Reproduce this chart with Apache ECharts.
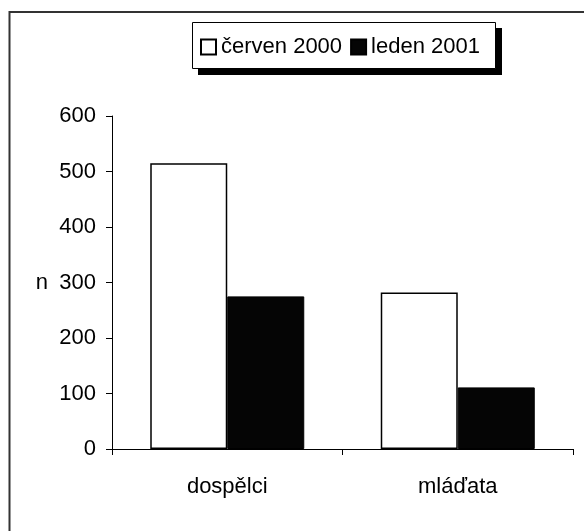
<!DOCTYPE html>
<html>
<head>
<meta charset="utf-8">
<script src="https://cdn.jsdelivr.net/npm/echarts@6/dist/echarts.min.js"></script>
<style>
html,body{margin:0;padding:0;background:#fff;}
#main{width:584px;height:531px;}
</style>
</head>
<body>
<div id="main"></div>
<script>
const categories = ['dospělci', 'mláďata'];
const seriesNames = ['červen 2000', 'leden 2001'];
const cerven2000 = [515, 282];
const leden2001 = [275, 111];
const yTicks = [0, 100, 200, 300, 400, 500, 600];

const FONT = '"Liberation Sans", Arial, sans-serif';
const chart = echarts.init(document.getElementById('main'), null, {renderer: 'canvas'});
chart.setOption({
  animation: false,
  backgroundColor: '#ffffff',
  textStyle: {fontFamily: FONT, color: '#000'},
  graphic: [
    {type: 'line', z: 0, shape: {x1: 9, y1: 12, x2: 584, y2: 12}, style: {stroke: '#333', lineWidth: 2}},
    {type: 'line', z: 0, shape: {x1: 9.5, y1: 11, x2: 9.5, y2: 531}, style: {stroke: '#333', lineWidth: 2}},
    {type: 'rect', z: 0, shape: {x: 198, y: 28, width: 304, height: 47}, style: {fill: '#000'}},
    {type: 'rect', z: 0, shape: {x: 192.5, y: 22.5, width: 303, height: 46}, style: {fill: '#fff', stroke: '#000', lineWidth: 1}}
  ],
  legend: {
    left: 192, top: 22,
    padding: [14, 16, 14, 8],
    itemGap: 8,
    itemWidth: 15, itemHeight: 15,
    z: 10,
    textStyle: {fontFamily: FONT, fontSize: 22, color: '#000'},
    icon: 'rect',
    data: seriesNames
  },
  grid: {left: 112, right: 11, top: 116, bottom: 82, containLabel: false},
  xAxis: {
    type: 'category',
    data: categories,
    boundaryGap: true,
    axisLine: {lineStyle: {color: '#000', width: 1}},
    axisTick: {show: true, length: 6, lineStyle: {color: '#000'}},
    axisLabel: {fontFamily: FONT, fontSize: 22, color: '#000', margin: 27}
  },
  yAxis: {
    type: 'value',
    min: yTicks[0], max: yTicks[yTicks.length - 1], interval: 100,
    name: 'n',
    nameLocation: 'middle',
    nameRotate: 0,
    nameGap: 64,
    nameTextStyle: {fontFamily: FONT, fontSize: 22, color: '#000'},
    splitLine: {show: false},
    axisLine: {show: true, lineStyle: {color: '#000', width: 1}},
    axisTick: {show: true, length: 6, lineStyle: {color: '#000'}},
    axisLabel: {fontFamily: FONT, fontSize: 22, color: '#000', margin: 16}
  },
  series: [
    {
      name: seriesNames[0], type: 'bar', data: cerven2000,
      barWidth: 77, barGap: '0%',
      itemStyle: {color: '#fff', borderColor: '#000', borderWidth: 1.5}
    },
    {
      name: seriesNames[1], type: 'bar', data: leden2001,
      barWidth: 77, barGap: '0%',
      itemStyle: {color: '#050505', borderColor: '#000', borderWidth: 1}
    }
  ]
});
</script>
</body>
</html>
